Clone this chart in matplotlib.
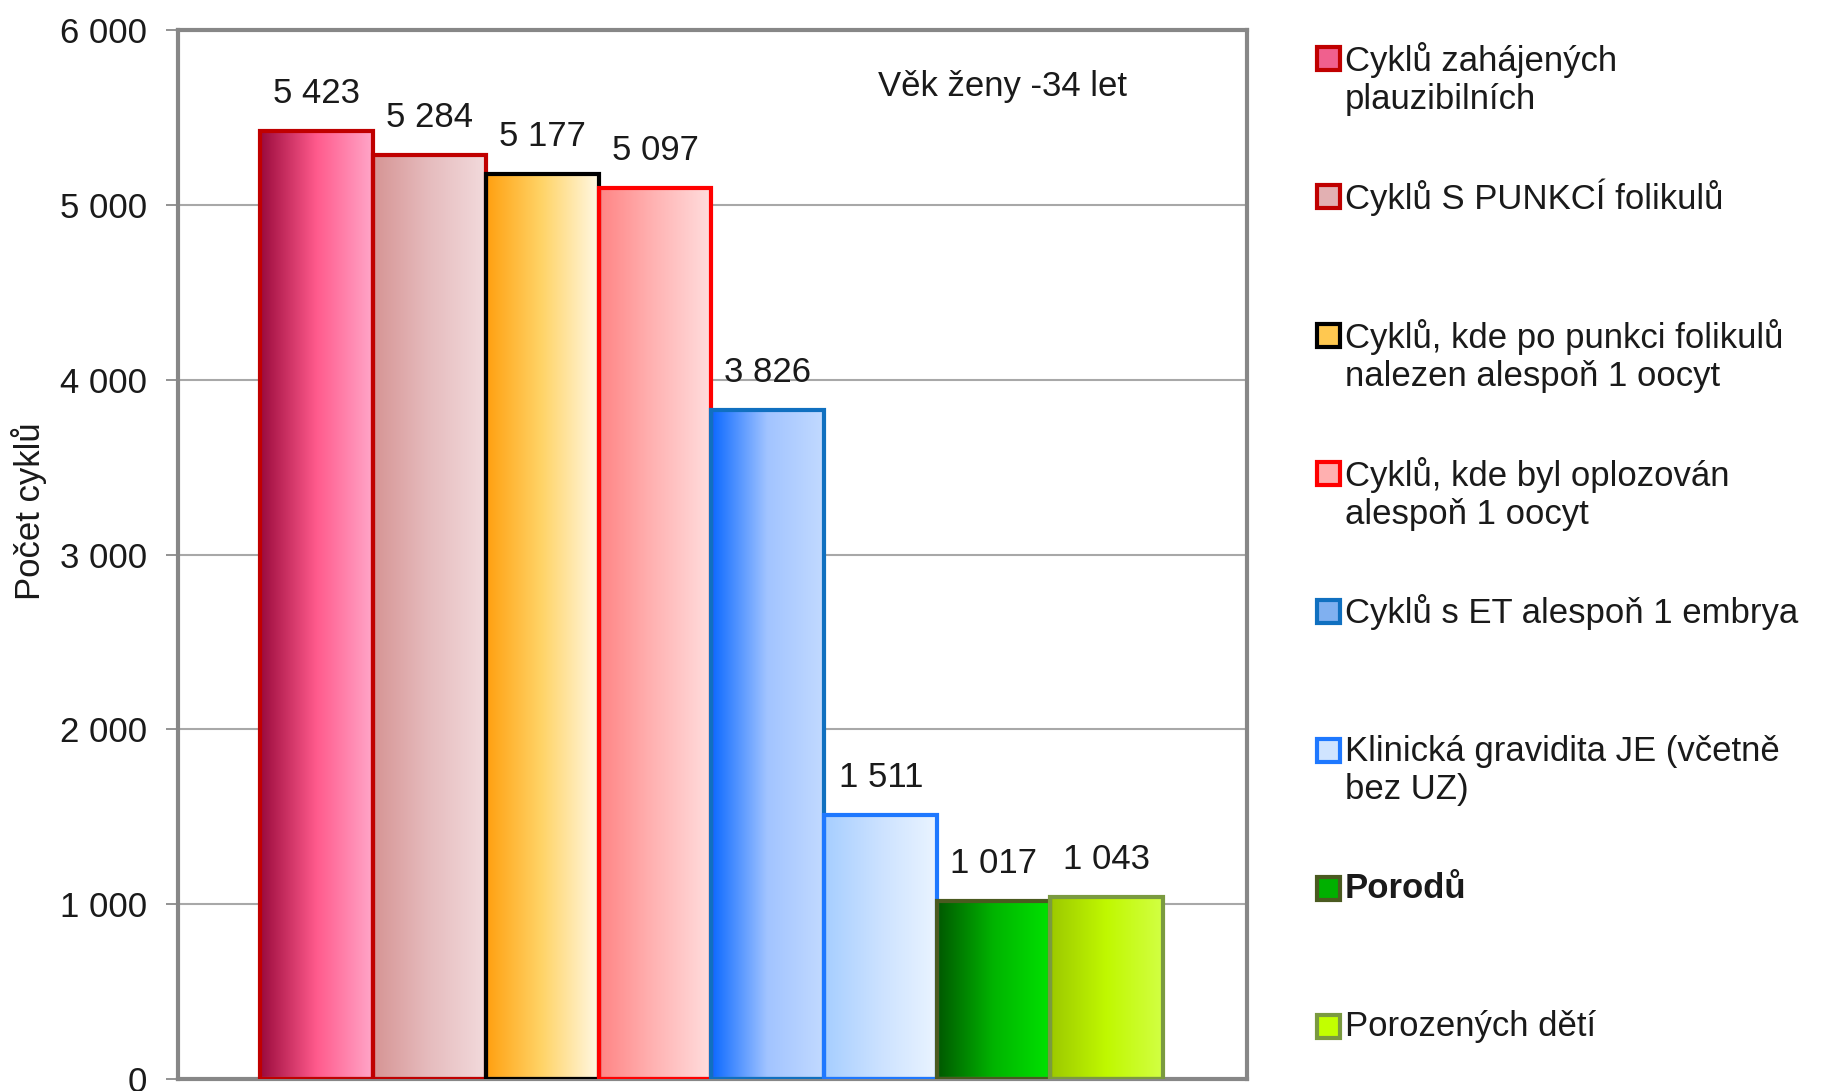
import numpy as np
import matplotlib
matplotlib.use("Agg")
import matplotlib.pyplot as plt
from matplotlib.colors import LinearSegmentedColormap
from matplotlib.patches import Rectangle

plt.rcParams["font.family"] = ["Liberation Sans", "DejaVu Sans"]

# data
LABELS = [
    "Cyklů zahájených\nplauzibilních",
    "Cyklů S PUNKCÍ folikulů",
    "Cyklů, kde po punkci folikulů\nnalezen alespoň 1 oocyt",
    "Cyklů, kde byl oplozován\nalespoň 1 oocyt",
    "Cyklů s ET alespoň 1 embrya",
    "Klinická gravidita JE (včetně\nbez UZ)",
    "Porodů",
    "Porozených dětí",
]
VALUES = [5423, 5284, 5177, 5097, 3826, 1511, 1017, 1043]
YTICKS = [0, 1000, 2000, 3000, 4000, 5000, 6000]
ANNOT = "Věk ženy -34 let"
YLABEL = "Počet cyklů"

# horizontal gradient stops (left -> right) and outline colour per bar
GRADIENTS = [
    ["#9A0A3C", "#FF5A8C", "#FFA6C8"],
    ["#D69494", "#E6BCBE", "#F2DADC"],
    ["#FFA010", "#FFD468", "#FFF8E4"],
    ["#FF8484", "#FFB4B4", "#FFDEDE"],
    ["#0A68FF", "#A2C4FF", "#C2DAFF"],
    ["#A6CEFF", "#CCE2FF", "#EAF4FF"],
    ["#005800", "#00B400", "#00E200"],
    ["#9CC800", "#C0F800", "#D2FF44"],
]
EDGES = ["#C00000", "#C00000", "#000000", "#FF0000",
         "#1070C0", "#1E78FF", "#4A5A20", "#7A9A40"]
LEGEND_FILL = ["#F0608E", "#E2B0B2", "#FFC850", "#FFB0B0",
               "#80B0F0", "#D0E4FF", "#00B000", "#C2FF00"]

FS = 25
W, H = 1822, 1091
fig = plt.figure(figsize=(W / 100, H / 100), dpi=100)
ax = fig.add_axes([178 / W, 12 / H, 1069 / W, 1049 / H])

x = np.arange(len(VALUES))
bars = ax.bar(x, VALUES, width=1.0, facecolor="none", edgecolor=EDGES,
              linewidth=3, zorder=3)
grad = np.linspace(0, 1, 256).reshape(1, -1)
for b, stops in zip(bars, GRADIENTS):
    cmap = LinearSegmentedColormap.from_list("g", stops)
    x0, h = b.get_x(), b.get_height()
    ax.imshow(grad, cmap=cmap, extent=[x0, x0 + b.get_width(), 0, h],
              aspect="auto", zorder=2, interpolation="bilinear")

for b, v in zip(bars, VALUES):
    ax.annotate(f"{v:,}".replace(",", " "),
                (b.get_x() + b.get_width() / 2, v),
                xytext=(0, 27), textcoords="offset points",
                ha="center", va="center", fontsize=FS, color="#1a1a1a")

ax.set_xlim(-1.226, 8.244)
ax.set_ylim(0, 6000)
ax.set_xticks([])
ax.set_yticks(YTICKS)
ax.set_yticklabels([f"{t:,}".replace(",", " ") for t in YTICKS])
ax.tick_params(axis="y", length=9, width=1.2, color="#808080", pad=13,
               labelsize=FS, labelcolor="#1a1a1a")
ax.yaxis.grid(True, color="#A8A8A8", lw=1.5, zorder=0)
ax.set_axisbelow(True)
for s in ax.spines.values():
    s.set_color("#878787")
    s.set_linewidth(3)

ax.text(0.771, 0.9457, ANNOT, transform=ax.transAxes, ha="center",
        va="center", fontsize=FS, color="#1a1a1a")
fig.text(29 / W, 1 - 511 / H, YLABEL, rotation=90, ha="center",
         va="center", fontsize=FS, color="#1a1a1a")

# legend drawn by hand: marker lined up with the first text line
first_line = 58.5
step = 138.3
line_gap = 41.5
msz = 23
for i, (lab, ec, fc) in enumerate(zip(LABELS, EDGES, LEGEND_FILL)):
    yc = first_line + i * step
    fig.patches.append(Rectangle(((1328 - msz / 2) / W, 1 - (yc + msz / 2) / H),
                                 msz / W, msz / H, transform=fig.transFigure,
                                 facecolor=fc, edgecolor=ec, lw=3))
    n = lab.count("\n") + 1
    yt = yc + (n - 1) * line_gap / 2
    fig.text(1345 / W, 1 - yt / H, lab, ha="left", va="center",
             fontsize=FS, linespacing=1.2, color="#1a1a1a",
             fontweight="bold" if lab == "Porodů" else "normal")

fig.savefig("out.png", dpi=100)
